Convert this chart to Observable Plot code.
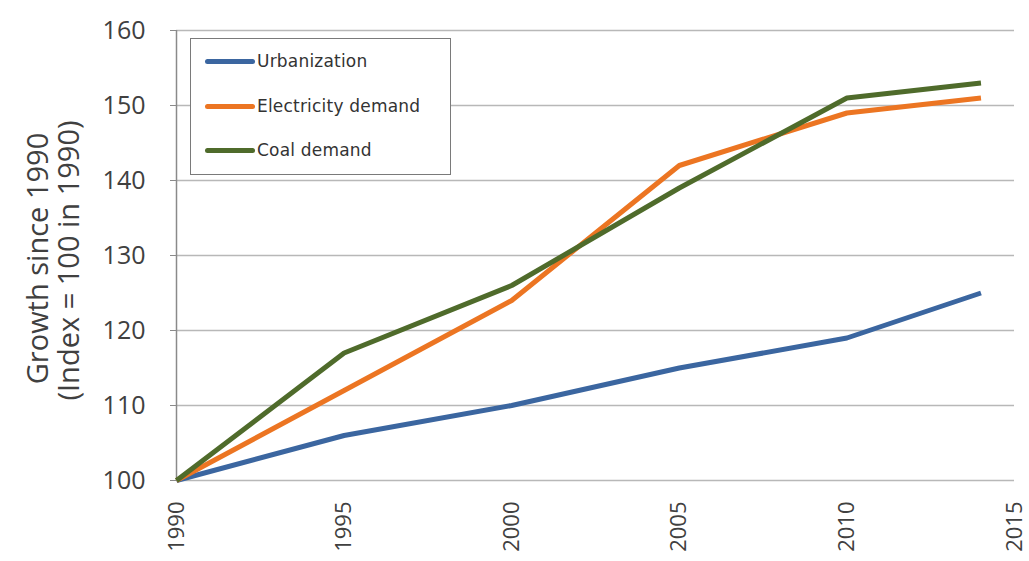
<!DOCTYPE html>
<html>
<head>
<meta charset="utf-8">
<script src="https://cdn.jsdelivr.net/npm/d3@7"></script>
<script src="https://cdn.jsdelivr.net/npm/@observablehq/plot@0.6"></script>
<style>
  html, body { margin: 0; padding: 0; background: #fff; }
  #wrap { position: relative; width: 1029px; height: 561px; font-family: "Open Sans", sans-serif; }
  #legend { position: absolute; left: 190px; top: 38px; width: 261px; height: 137px; border: 1px solid #7a7a7a; background: #fff; box-sizing: border-box; }
  .row { position: absolute; left: 14px; height: 20px; display: flex; align-items: center; font-family: "DejaVu Sans", sans-serif; font-size: 17px; color: #333; letter-spacing: 0.2px; }
  .sw { width: 50px; height: 5px; border-radius: 3px; margin-right: 2px; }
</style>
</head>
<body>
<div id="wrap"></div>
<script>
const years = [1990, 1995, 2000, 2005, 2010, 2014];
const seriesNames = ["Urbanization", "Electricity demand", "Coal demand"];
const urbanization = [100, 106, 110, 115, 119, 125];
const electricity = [100, 112, 124, 142, 149, 151];
const coal = [100, 117, 126, 139, 151, 153];
const colors = ["#3b66a0", "#ec7522", "#4f6b2b"];
const yTicks = [100, 110, 120, 130, 140, 150, 160];
const xTicks = [1990, 1995, 2000, 2005, 2010, 2015];
const yTitle = ["Growth since 1990", "(Index = 100 in 1990)"];

const values = [urbanization, electricity, coal];
const data = [];
seriesNames.forEach((s, i) => years.forEach((y, j) => data.push({series: s, year: y, value: values[i][j]})));

const chart = Plot.plot({
  width: 1029,
  height: 561,
  marginLeft: 176,
  marginRight: 15,
  marginTop: 30,
  marginBottom: 81,
  style: {fontFamily: "'Open Sans', sans-serif", background: "#fff"},
  x: {domain: [1990, 2015]},
  y: {domain: [100, 160]},
  color: {domain: seriesNames, range: colors},
  marks: [
    Plot.gridY(yTicks, {stroke: "#b8b8b8", strokeOpacity: 1, strokeWidth: 1.5}),
    Plot.ruleX([1990], {stroke: "#8a8a8a", strokeWidth: 1.5}),
    Plot.axisY(yTicks, {tickSize: 6, tickPadding: 25, stroke: "#8a8a8a", fontSize: 25, fill: "#404040", label: null}),
    Plot.axisX(xTicks, {tickSize: 0, tickRotate: -90, tickPadding: 21, tickFormat: d => String(d), fontSize: 22, fill: "#404040", label: null}),
    Plot.text([yTitle[0]], {text: d => d, frameAnchor: "left", textAnchor: "middle", rotate: -90, dx: -138, dy: 3, fontSize: 29, fill: "#404040"}),
    Plot.text([yTitle[1]], {text: d => d, frameAnchor: "left", textAnchor: "middle", rotate: -90, dx: -107, dy: 5, fontSize: 29, fill: "#404040"}),
    Plot.line(data, {x: "year", y: "value", z: "series", stroke: "series", strokeWidth: 5, strokeLinejoin: "round", strokeLinecap: "butt"})
  ]
});

const wrap = document.getElementById("wrap");
wrap.appendChild(chart);
const legend = document.createElement("div");
legend.id = "legend";
const tops = [12, 57, 101];
seriesNames.forEach((s, i) => {
  const row = document.createElement("div");
  row.className = "row";
  row.style.top = tops[i] + "px";
  const sw = document.createElement("div");
  sw.className = "sw";
  sw.style.background = colors[i];
  const t = document.createElement("span");
  t.textContent = s;
  row.appendChild(sw);
  row.appendChild(t);
  legend.appendChild(row);
});
wrap.appendChild(legend);
</script>
</body>
</html>
